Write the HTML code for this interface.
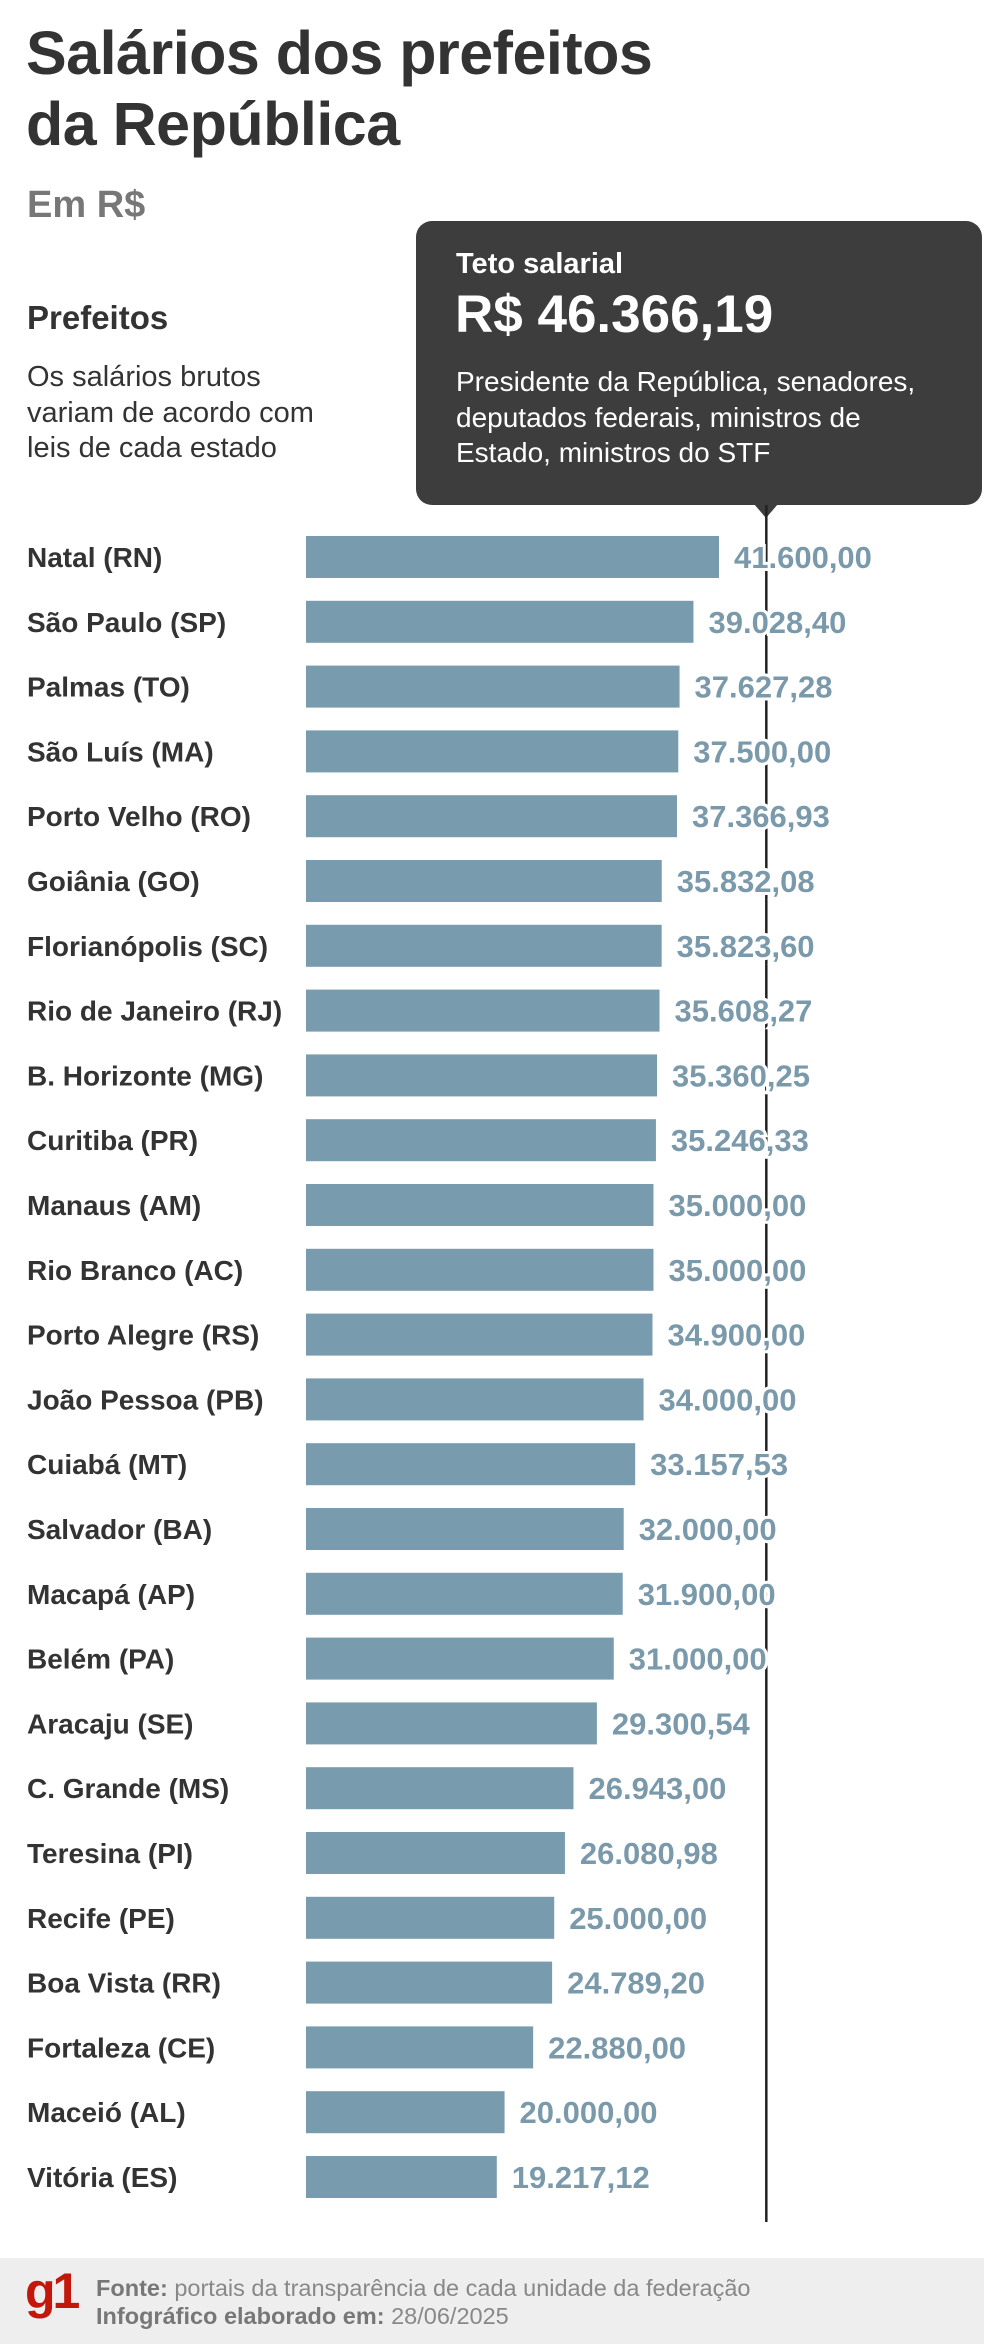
<!DOCTYPE html>
<html><head><meta charset="utf-8"><style>
body{margin:0;width:984px;height:2344px;background:#fff;font-family:"Liberation Sans",sans-serif;position:relative;overflow:hidden}
.a{position:absolute;white-space:nowrap}
</style></head><body>
<div class="a" style="left:26px;top:18px;font-size:61px;font-weight:bold;color:#333;line-height:71px;letter-spacing:-0.5px">Salários dos prefeitos<br>da República</div>
<div class="a" style="left:27px;top:184px;font-size:38px;font-weight:bold;color:#777">Em R$</div>
<div class="a" style="left:27px;top:299px;font-size:33px;font-weight:bold;color:#333">Prefeitos</div>
<div class="a" style="left:27px;top:360px;font-size:29px;color:#333;line-height:35.5px">Os salários brutos<br>variam de acordo com<br>leis de cada estado</div>
<div class="a" style="left:416px;top:221px;width:566px;height:284px;background:#3d3d3d;border-radius:16px"></div>
<div class="a" style="left:754px;top:504px;width:0;height:0;border-left:12px solid transparent;border-right:12px solid transparent;border-top:14px solid #3d3d3d"></div>
<div class="a" style="left:456px;top:248px;font-size:29px;font-weight:bold;color:#fff">Teto salarial</div>
<div class="a" style="left:455px;top:284px;font-size:53px;font-weight:bold;color:#fff">R$ 46.366,19</div>
<div class="a" style="left:456px;top:364px;font-size:28px;color:#fff;line-height:35.5px">Presidente da República, senadores,<br>deputados federais, ministros de<br>Estado, ministros do STF</div>
<svg class="a" style="left:0;top:0" width="984" height="2258" id="chart"></svg>
<div class="a" style="left:0;top:2258px;width:984px;height:86px;background:#eeeeee"></div>
<div class="a" style="left:25px;top:2262px;font-size:50px;font-weight:bold;color:#c4170c;letter-spacing:-3px">g1</div>
<div class="a" style="left:96px;top:2274px;font-size:23.5px;color:#888;line-height:28px"><b style="color:#777">Fonte:</b> portais da transparência de cada unidade da federação<br><b style="color:#777">Infográfico elaborado em:</b> 28/06/2025</div>
<script>
const categories=["Natal (RN)","São Paulo (SP)","Palmas (TO)","São Luís (MA)","Porto Velho (RO)","Goiânia (GO)","Florianópolis (SC)","Rio de Janeiro (RJ)","B. Horizonte (MG)","Curitiba (PR)","Manaus (AM)","Rio Branco (AC)","Porto Alegre (RS)","João Pessoa (PB)","Cuiabá (MT)","Salvador (BA)","Macapá (AP)","Belém (PA)","Aracaju (SE)","C. Grande (MS)","Teresina (PI)","Recife (PE)","Boa Vista (RR)","Fortaleza (CE)","Maceió (AL)","Vitória (ES)"];
const values=[41600,39028.40,37627.28,37500,37366.93,35832.08,35823.60,35608.27,35360.25,35246.33,35000,35000,34900,34000,33157.53,32000,31900,31000,29300.54,26943,26080.98,25000,24789.20,22880,20000,19217.12];
const cap=[46366.19];
const svg=document.getElementById('chart');
const NS='http://www.w3.org/2000/svg';
const x0=306,k=413/41600;
function x(v){return x0+v*k;}
function yc(i){return 557+i*64.8;}
function fmt(v){let p=v.toFixed(2).split('.');return p[0].replace(/\B(?=(\d{3})+(?!\d))/g,'.')+','+p[1];}
const ln=document.createElementNS(NS,'line');
ln.setAttribute('x1',x(cap[0]));ln.setAttribute('x2',x(cap[0]));ln.setAttribute('y1',505);ln.setAttribute('y2',yc(categories.length-1)+45);
ln.setAttribute('stroke','#222');ln.setAttribute('stroke-width','2.5');


svg.appendChild(ln);
categories.forEach((c,i)=>{
 const y=yc(i);
 const t=document.createElementNS(NS,'text');
 t.setAttribute('x',27);t.setAttribute('y',y+10);t.setAttribute('font-size','28');t.setAttribute('font-weight','bold');t.setAttribute('fill','#333');
 t.textContent=c;
 
 
 svg.appendChild(t);
 const r=document.createElementNS(NS,'rect');
 r.setAttribute('x',x0);r.setAttribute('y',y-21);r.setAttribute('width',x(values[i])-x0);r.setAttribute('height',42);r.setAttribute('fill','#789bae');
 
 
 svg.appendChild(r);
 const v=document.createElementNS(NS,'text');
 v.setAttribute('x',x(values[i])+15);v.setAttribute('y',y+11);v.setAttribute('font-size','31');v.setAttribute('font-weight','bold');v.setAttribute('fill','#7a9aab');
 v.setAttribute('stroke','#fff');v.setAttribute('stroke-width','6');v.setAttribute('paint-order','stroke');
 v.textContent=fmt(values[i]);
 
 
 svg.appendChild(v);
});
</script>
</body></html>
